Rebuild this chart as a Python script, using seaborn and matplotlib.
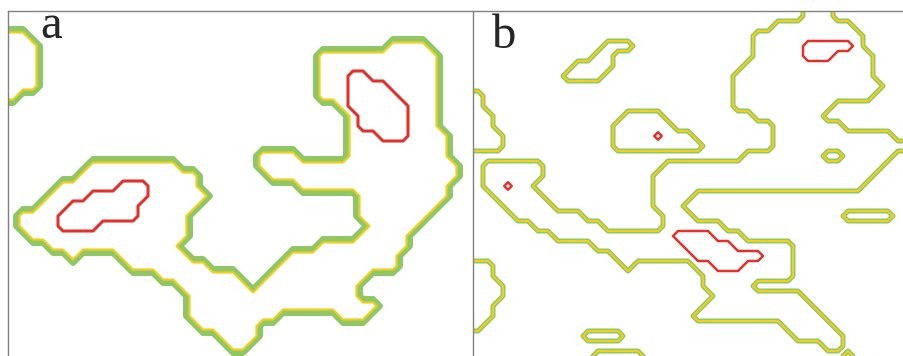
import numpy as np
import matplotlib
matplotlib.use("Agg")
import matplotlib.pyplot as plt
import seaborn as sns

# level field for each panel, stored as runs of cells: (row, first col, last col)
# 1 = inside the outer (green/yellow) level, 2 = inside the red level
outer_a = [
    (2, 0, 1),
    (3, 0, 2), (3, 38, 41),
    (4, 0, 2), (4, 31, 42),
    (5, 0, 2), (5, 31, 42),
    (6, 0, 2), (6, 31, 42),
    (7, 0, 2), (7, 31, 42),
    (8, 0, 0), (8, 31, 42),
    (9, 33, 42),
    (10, 34, 42),
    (11, 34, 42),
    (12, 34, 43),
    (13, 34, 43),
    (14, 25, 28), (14, 34, 43),
    (15, 8, 16), (15, 25, 44),
    (16, 7, 18), (16, 26, 44),
    (17, 5, 18), (17, 29, 43),
    (18, 4, 19), (18, 35, 43),
    (19, 3, 18), (19, 35, 42),
    (20, 1, 17), (20, 35, 41),
    (21, 1, 17), (21, 36, 40),
    (22, 2, 17), (22, 35, 39),
    (23, 4, 16), (23, 31, 39),
    (24, 6, 6), (24, 11, 17), (24, 28, 38),
    (25, 12, 19), (25, 27, 38),
    (26, 15, 22), (26, 26, 35),
    (27, 17, 23), (27, 25, 34),
    (28, 18, 34),
    (29, 18, 36),
    (30, 18, 26), (30, 33, 35),
    (31, 19, 24),
    (32, 21, 24),
    (33, 22, 23),
]
core_a = [
    (6, 34, 35), (7, 34, 37), (8, 34, 38), (9, 34, 39),
    (10, 35, 39), (11, 35, 39), (12, 37, 39),
    (17, 11, 13), (18, 8, 13), (19, 6, 12), (20, 5, 12), (21, 5, 8),
]

outer_b = [
    (0, 33, 35),
    (1, 30, 37),
    (2, 28, 38),
    (3, 13, 15), (3, 28, 38),
    (4, 12, 13), (4, 28, 39),
    (5, 10, 13), (5, 27, 39),
    (6, 9, 12), (6, 26, 39),
    (7, 26, 40),
    (8, 0, 0), (8, 26, 39),
    (9, 0, 0), (9, 26, 35),
    (10, 0, 1), (10, 15, 18), (10, 28, 34),
    (11, 0, 1), (11, 14, 19), (11, 30, 36),
    (12, 0, 2), (12, 14, 21), (12, 30, 41),
    (13, 0, 2), (13, 14, 22), (13, 30, 42),
    (14, 27, 34), (14, 37, 41),
    (15, 1, 6), (15, 19, 40),
    (16, 1, 6), (16, 18, 39),
    (17, 1, 5), (17, 18, 38),
    (18, 2, 6), (18, 18, 21),
    (19, 3, 7), (19, 18, 20),
    (20, 4, 10), (20, 19, 21), (20, 37, 41),
    (21, 6, 12), (21, 19, 24),
    (22, 8, 26),
    (23, 12, 31),
    (24, 14, 31),
    (25, 0, 1), (25, 15, 15), (25, 22, 31),
    (26, 0, 1), (26, 23, 31),
    (27, 0, 2), (27, 23, 27),
    (28, 0, 2), (28, 24, 32),
    (29, 0, 1), (29, 23, 33),
    (30, 0, 1), (30, 22, 34),
    (31, 0, 0), (31, 31, 35),
    (32, 11, 14), (32, 32, 36),
    (33, 35, 36),
    (34, 12, 16), (34, 37, 37),
]
core_b = [
    (3, 33, 37), (4, 33, 35),
    (22, 20, 23), (23, 21, 25), (24, 22, 28), (25, 24, 26),
]
dots_b = [(12, 18), (17, 3)]

shape_a = (35, 46)
shape_b = (35, 43)
panel_labels = ["a", "b"]

green = "#8fc766"
yellow = "#f0cf1f"
red = "#e3302b"


def build_field(shape, outer, core, dots=()):
    field = np.zeros(shape)
    for r, c0, c1 in outer:
        field[r, c0:c1 + 1] = 1
    for r, c0, c1 in core:
        field[r, c0:c1 + 1] = 2
    for r, c in dots:
        field[r, c] = 1.8
    return np.pad(field, 1, mode="edge")


def draw_panel(ax, field, width, g_level, y_level, g_lw, y_lw, r_lw):
    rows, cols = field.shape
    x = np.arange(cols) - 0.5
    y = np.arange(rows) - 0.5
    ax.contour(x, y, field, levels=[g_level], colors=green, linewidths=g_lw)
    ax.contour(x, y, field, levels=[y_level], colors=yellow, linewidths=y_lw)
    ax.contour(x, y, field, levels=[1.5], colors=red, linewidths=r_lw)
    ax.set_xlim(0, width)
    ax.set_ylim(34.5, 0)
    ax.set_xticks([])
    ax.set_yticks([])
    for side in ["right", "bottom"]:
        ax.spines[side].set_visible(False)
    for side in ["top", "left"]:
        ax.spines[side].set_color("#808080")
        ax.spines[side].set_linewidth(1.0)


sns.set_style("white")

W, H = 904, 356
fig = plt.figure(figsize=(W / 100, H / 100), dpi=100)

ax_a = fig.add_axes([8 / W, 0, 464 / W, 345 / H])
ax_b = fig.add_axes([473 / W, 0, 431 / W, 345 / H])

draw_panel(ax_a, build_field(shape_a, outer_a, core_a), 46.4, 0.3, 0.65, 4.3, 1.6, 2.2)
draw_panel(ax_b, build_field(shape_b, outer_b, core_b, dots_b), 43.1, 0.5, 0.5, 3.6, 1.5, 1.8)

fig.text(40 / W, 1 - 38 / H, panel_labels[0], fontsize=35, family="Liberation Serif",
         va="baseline", ha="left")
fig.text(492 / W, 1 - 48 / H, panel_labels[1], fontsize=35, family="Liberation Serif",
         va="baseline", ha="left")

fig.savefig("out.png", dpi=100, facecolor="white")
